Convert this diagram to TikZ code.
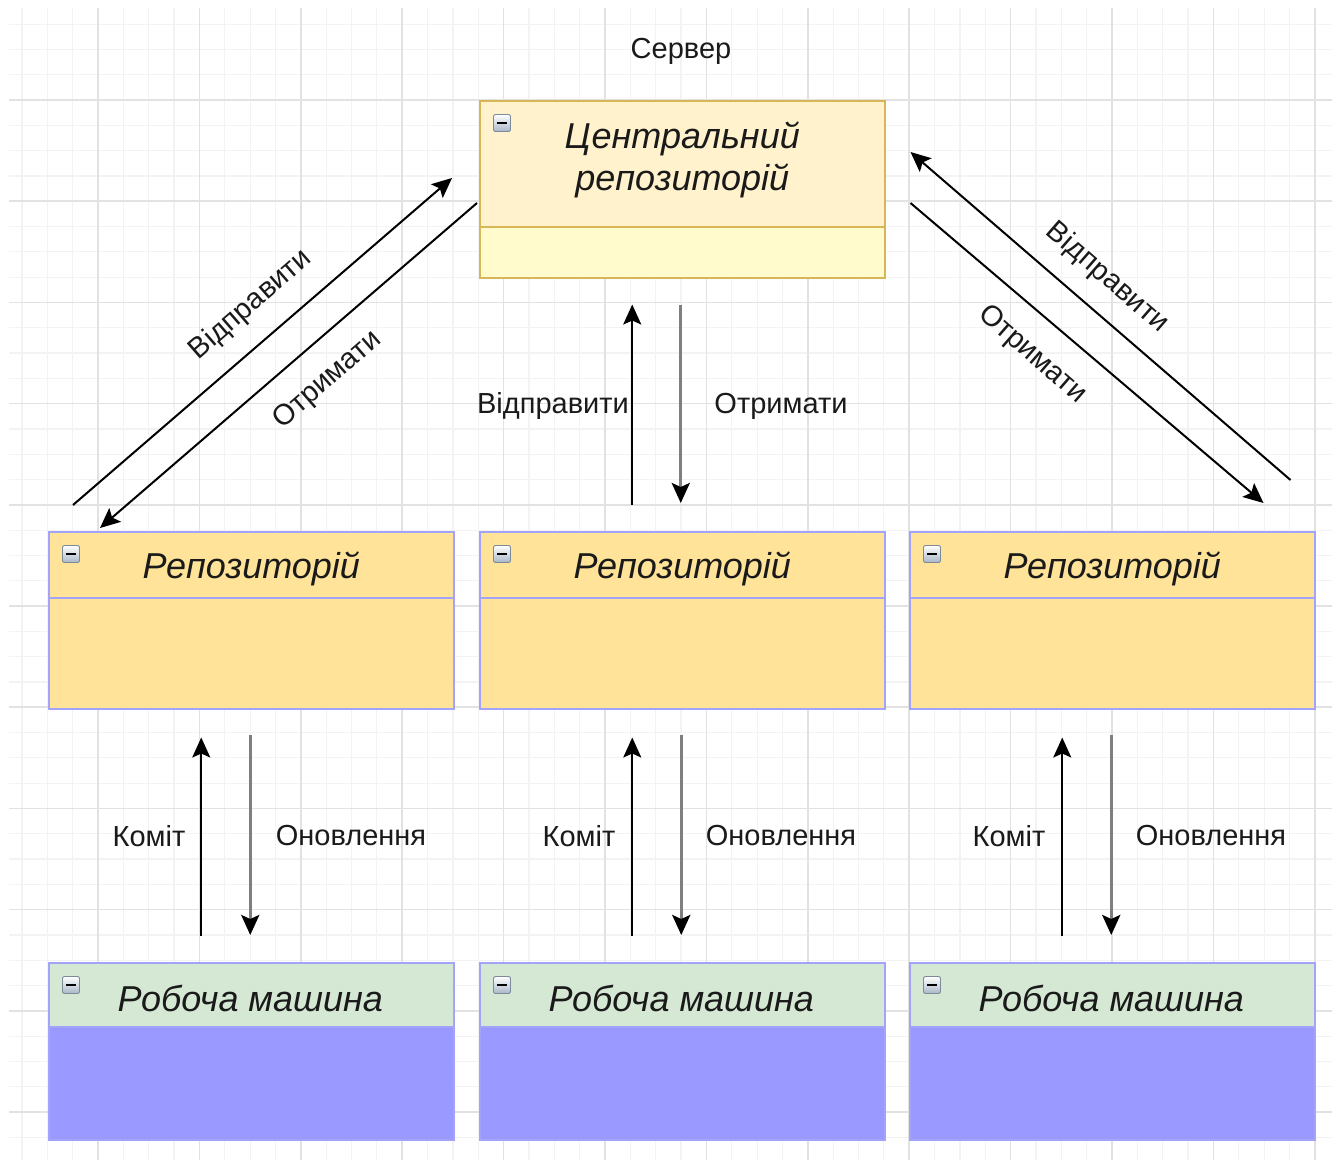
\documentclass[tikz,border=0pt]{standalone}
\usepackage{fontspec}
\setmainfont{Liberation Sans}
\usetikzlibrary{arrows.meta,calc}
\definecolor{gridminor}{HTML}{F3F3F3}
\definecolor{gridmajor}{HTML}{E2E2E2}
\definecolor{cenhdr}{HTML}{FFF2CC}
\definecolor{cenbody}{HTML}{FFFBCC}
\definecolor{cenedge}{HTML}{D6B656}
\definecolor{repfill}{HTML}{FFE399}
\definecolor{lavedge}{HTML}{A3A3FA}
\definecolor{workhdr}{HTML}{D5E8D4}
\definecolor{workbody}{HTML}{9999FF}
\definecolor{iconblue}{HTML}{A9B7C8}
\definecolor{iconedge}{HTML}{7D8A99}
\definecolor{txt}{HTML}{1A1A1A}
\definecolor{shaftgray}{HTML}{7F7F7F}
\tikzset{
  boxshape/.style={rectangle, inner sep=0pt, anchor=north west, minimum width=405pt, minimum height=177pt, line width=1.5pt},
  hdrshape/.style={rectangle, inner sep=0pt, anchor=north west, minimum width=405pt, line width=1.5pt},
  titletext/.style={inner sep=0pt, align=center, text=txt, font=\fontsize{36}{42}\selectfont\itshape},
  lbl/.style={inner sep=0pt, text=txt, font=\fontsize{29}{32}\selectfont},
  iconbox/.style={rectangle, minimum size=17pt, inner sep=0pt, rounded corners=2pt, top color=white, bottom color=iconblue, draw=iconedge, line width=0.9pt,
    path picture={\draw[line width=2.6pt,black] ([xshift=-5pt]path picture bounding box.center) -- ([xshift=5pt]path picture bounding box.center);}},
  arrup/.style={line width=2pt, black, -{Stealth[length=20pt,width=18pt,inset=4pt]}},
  arrdown/.style={line width=3pt, shaftgray, -{Stealth[length=20pt,width=18pt,inset=4pt,color=black]}},
}
\begin{document}
\begin{tikzpicture}[x=1pt,y=-1pt]
\useasboundingbox (0,0) rectangle (1338,1160);
\fill[white] (0,0) rectangle (1338,1160);
% grid
\begin{scope}
\clip (9,8) rectangle (1332,1160);
\foreach \i in {-3,...,50} { \draw[gridminor, line width=1.2pt] ({98+\i*25.35},0) -- ({98+\i*25.35},1160); }
\foreach \i in {-3,...,42} { \draw[gridminor, line width=1.2pt] (0,{100+\i*25.3}) -- (1338,{100+\i*25.3}); }
\foreach \i in {-1,...,13} { \draw[gridmajor, line width=1.5pt] ({98+\i*101.4},0) -- ({98+\i*101.4},1160); }
\foreach \i in {-1,...,11} { \draw[gridmajor, line width=1.5pt] (0,{100+\i*101.2}) -- (1338,{100+\i*101.2}); }
\end{scope}

% central repository
\node[boxshape, fill=cenbody, draw=cenedge] (central) at (479,100) {};
\node[hdrshape, fill=cenhdr, draw=cenedge, minimum height=126pt] (centralh) at (central.north west) {};
\node[titletext] (centralt) at ([yshift=4pt]centralh.center) {Центральний\\репозиторій};
\node[iconbox] (centrali) at ([xshift=23pt,yshift=-23pt]central.north west) {};

% repositories
\foreach \n/\x in {1/48, 2/479, 3/909} {
  \node[boxshape, fill=repfill, draw=lavedge] (rep\n) at (\x,531) {};
  \node[hdrshape, fill=repfill, draw=lavedge, minimum height=66pt] (rep\n h) at (rep\n.north west) {};
  \node[titletext] (rep\n t) at ([yshift=-4pt]rep\n h.center) {Репозиторій};
  \node[iconbox] (rep\n i) at ([xshift=23pt,yshift=-23pt]rep\n.north west) {};
}
% work machines
\foreach \n/\x in {1/48, 2/479, 3/909} {
  \node[boxshape, fill=workbody, draw=lavedge] (work\n) at (\x,962) {};
  \node[hdrshape, fill=workhdr, draw=lavedge, minimum height=64pt] (work\n h) at (work\n.north west) {};
  \node[titletext] (work\n t) at ([xshift=-1pt,yshift=-4pt]work\n h.center) {Робоча машина};
  \node[iconbox] (work\n i) at ([xshift=23pt,yshift=-23pt]work\n.north west) {};
}

% server label
\node[lbl] (server) at (681,51) {Сервер};

% left diagonal pair
\draw[arrup] ([xshift=25pt,yshift=26pt]rep1.north west) -- ([xshift=-27pt,yshift=-78pt]central.north west);
\draw[arrup] ([xshift=-2pt,yshift=-103pt]central.north west) -- ([xshift=52pt,yshift=3pt]rep1.north west);
\node[lbl, rotate=41] (lsend) at (251,305) {Відправити};
\node[lbl, rotate=41] (lget) at (328,380) {Отримати};

% middle pair
\draw[arrup] ([xshift=-50pt,yshift=26pt]rep2.north) -- ([xshift=-50pt,yshift=-26pt]central.south);
\draw[arrdown] ([xshift=-1.5pt,yshift=-26pt]central.south) -- ([xshift=-1.5pt,yshift=28pt]rep2.north);
\node[lbl] (msend) at (553,406) {Відправити};
\node[lbl] (mget) at (781,406) {Отримати};

% right diagonal pair
\draw[arrup] ([xshift=-25pt,yshift=51pt]rep3.north east) -- ([xshift=25pt,yshift=-52pt]central.north east);
\draw[arrup] ([xshift=25pt,yshift=-103pt]central.north east) -- ([xshift=-52pt,yshift=28pt]rep3.north east);
\node[lbl, rotate=-41] (rsend) at (1107,278) {Відправити};
\node[lbl, rotate=-41] (rget) at (1032,355) {Отримати};

% commit / update pairs
\foreach \n/\cx in {1/149, 2/579, 3/1009} {
  \draw[arrup] ([xshift=-50pt,yshift=26pt]work\n.north) -- ([xshift=-50pt,yshift=-28pt]rep\n.south);
  \draw[arrdown] ([xshift=-1pt,yshift=-25pt]rep\n.south) -- ([xshift=-1pt,yshift=27pt]work\n.north);
  \node[lbl] (commit\n) at (\cx,836) {Комiт};
  \node[lbl] (update\n) at ({\cx+202},836) {Оновлення};
}
\end{tikzpicture}
\end{document}
